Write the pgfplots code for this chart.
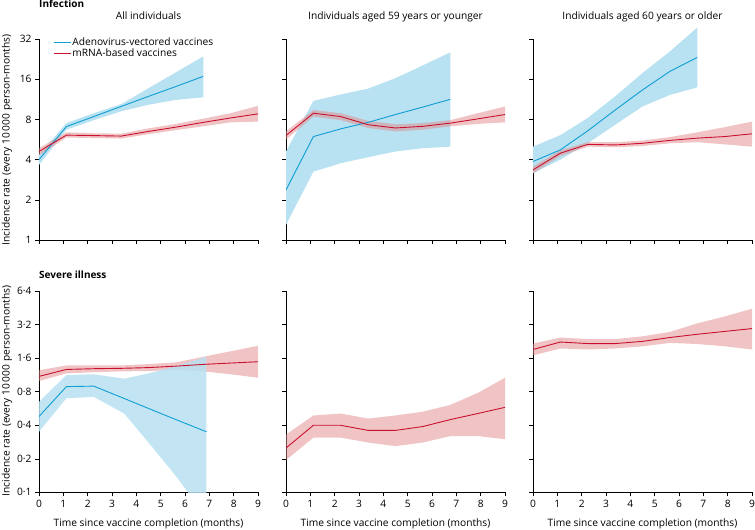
\documentclass[border=0pt]{standalone}
\usepackage{fontspec}
\setmainfont{Open Sans}
\usepackage{pgfplots}
\pgfplotsset{compat=1.18}
\definecolor{adeno}{RGB}{15,158,212}
\definecolor{adenofill}{RGB}{184,225,241}
\definecolor{mrna}{RGB}{200,16,46}
\definecolor{mrnafill}{RGB}{226,138,138}
\pgfplotsset{
 every axis/.append style={scale only axis, width=219pt, height=201pt, xmin=0, xmax=9,
   axis x line*=bottom, axis y line*=left,
   tick align=outside, major tick length=4pt,
   xtick={0,1,2,3,4,5,6,7,8,9},
   tick style={black, line width=0.6pt}, axis line style={black, line width=0.7pt},
   ticklabel style={font=\fontsize{10.2}{12}\selectfont}},
}
\tikzset{
 rkbandA/.style={draw=none, fill=adenofill},
 rkbandM/.style={draw=none, fill=mrnafill, fill opacity=0.5},
 rklineA/.style={adeno, line width=0.9pt},
 rklineM/.style={mrna, line width=0.9pt},
}
\begin{document}
\begin{tikzpicture}
\path[use as bounding box] (0pt,0pt) rectangle (755pt,530pt);
\def\tfont{\fontsize{10.2}{12}\selectfont}
% ---------- Infection, all individuals
\begin{semilogyaxis}[log basis y=2, anchor=south west, at={(39pt,290pt)},
  ymin=1, ymax=32, ytick={1,2,4,8,16,32}, yticklabels={1,2,4,8,16,32}, xticklabels={},
  legend style={draw=none, fill=none, at={(0.065,1.01)}, anchor=north west,
    font=\tfont, row sep=-0.5pt, inner sep=0pt, nodes={inner xsep=1pt, inner ysep=1pt}},
  legend image code/.code={\draw[#1] (0pt,0pt) -- (17pt,0pt);},
  legend cell align=left]
\addplot[rkbandA, forget plot] coordinates {(0,4.34) (1.125,7.5) (2.25,8.9) (3.375,10.4) (4.5,13.7) (5.625,18.0) (6.75,23.7)
  (6.75,11.7) (5.625,11.2) (4.5,10.3) (3.375,9.2) (2.25,7.9) (1.125,6.7) (0,3.65)};
\addplot[rkbandM, forget plot] coordinates {(0,4.87) (1.125,6.4) (2.25,6.3) (3.375,6.25) (4.5,6.85) (5.625,7.4) (6.75,8.1) (7.875,8.9) (9,10.1)
  (9,7.7) (7.875,7.6) (6.75,7.1) (5.625,6.65) (4.5,6.2) (3.375,5.75) (2.25,5.8) (1.125,5.85) (0,4.3)};
\addplot[rklineA, no marks] coordinates {(0,4.0) (1.125,7.07) (2.25,8.4) (3.375,10.0) (4.5,11.9) (5.625,14.1) (6.75,16.8)};
\addlegendentry{Adenovirus-vectored vaccines}
\addplot[rklineM, no marks] coordinates {(0,4.6) (1.125,6.1) (2.25,6.05) (3.375,6.0) (4.5,6.5) (5.625,7.0) (6.75,7.6) (7.875,8.2) (9,8.8)};
\addlegendentry{mRNA-based vaccines}
\end{semilogyaxis}
% ---------- Infection, 59 or younger
\begin{semilogyaxis}[log basis y=2, anchor=south west, at={(286pt,290pt)},
  ymin=1, ymax=32, ytick={1,2,4,8,16,32}, yticklabels={}, xticklabels={}]
\addplot[rkbandA] coordinates {(0,4.6) (1.125,11.0) (2.25,12.3) (3.375,13.6) (4.5,16.3) (5.625,20.3) (6.75,25.4)
  (6.75,5.0) (5.625,4.87) (4.5,4.6) (3.375,4.17) (2.25,3.76) (1.125,3.25) (0,1.3)};
\addplot[rkbandM] coordinates {(0,6.5) (1.125,9.4) (2.25,8.9) (3.375,7.8) (4.5,7.35) (5.625,7.5) (6.75,7.9) (7.875,8.9) (9,10.0)
  (9,7.6) (7.875,7.4) (6.75,7.1) (5.625,6.7) (4.5,6.5) (3.375,6.9) (2.25,7.9) (1.125,8.4) (0,5.65)};
\addplot[rklineA, no marks] coordinates {(0,2.37) (1.125,5.95) (2.25,6.8) (3.375,7.6) (4.5,8.7) (5.625,9.9) (6.75,11.3)};
\addplot[rklineM, no marks] coordinates {(0,6.06) (1.125,8.9) (2.25,8.4) (3.375,7.3) (4.5,6.9) (5.625,7.1) (6.75,7.5) (7.875,8.07) (9,8.7)};
\end{semilogyaxis}
% ---------- Infection, 60 or older
\begin{semilogyaxis}[log basis y=2, anchor=south west, at={(533pt,290pt)}, clip=false,
  ymin=1, ymax=32, ytick={1,2,4,8,16,32}, yticklabels={}, xticklabels={}]
\addplot[rkbandA] coordinates {(0,5.0) (1.125,6.1) (2.25,8.2) (3.375,11.9) (4.5,17.8) (5.625,25.8) (6.75,39)
  (6.75,13.9) (5.625,12.2) (4.5,10.0) (3.375,7.3) (2.25,5.3) (1.125,4.0) (0,3.16)};
\addplot[rkbandM] coordinates {(0,3.55) (1.125,4.7) (2.25,5.4) (3.375,5.4) (4.5,5.55) (5.625,5.9) (6.75,6.4) (7.875,7.0) (9,7.7)
  (9,5.0) (7.875,5.2) (6.75,5.4) (5.625,5.3) (4.5,5.05) (3.375,4.95) (2.25,5.0) (1.125,4.25) (0,3.15)};
\addplot[rklineA, no marks] coordinates {(0,3.87) (1.125,4.73) (2.25,6.57) (3.375,9.4) (4.5,13.3) (5.625,18.3) (6.75,23.3)};
\addplot[rklineM, no marks] coordinates {(0,3.35) (1.125,4.47) (2.25,5.2) (3.375,5.15) (4.5,5.3) (5.625,5.57) (6.75,5.79) (7.875,5.95) (9,6.24)};
\end{semilogyaxis}
% ---------- Severe illness, all individuals
\begin{semilogyaxis}[log basis y=2, anchor=south west, at={(39pt,37.7pt)},
  ymin=0.1, ymax=6.4, ytick={0.1,0.2,0.4,0.8,1.6,3.2,6.4},
  yticklabels={0·1,0·2,0·4,0·8,1·6,3·2,6·4}, xticklabels={0,1,2,3,4,5,6,7,8,9}]
\addplot[rkbandM] coordinates {(0,1.25) (1.125,1.38) (2.25,1.38) (3.375,1.38) (4.5,1.42) (5.625,1.47) (6.75,1.65) (7.875,1.85) (9,2.07)
  (9,1.07) (7.875,1.15) (6.75,1.22) (5.625,1.26) (4.5,1.23) (3.375,1.22) (2.25,1.2) (1.125,1.17) (0,1.0)};
\addplot[rkbandA, fill opacity=0.85] coordinates {(0,0.65) (1.125,1.13) (2.25,1.15) (3.5,1.05) (4.5,1.17) (5.625,1.36) (6.88,1.65)
  (6.88,0.06) (5.625,0.14) (4.5,0.28) (3.5,0.51) (2.25,0.72) (1.125,0.70) (0,0.35)};
\addplot[rklineA, no marks] coordinates {(0,0.48) (1.125,0.89) (2.25,0.90) (3.375,0.715) (4.5,0.567) (5.625,0.45) (6.88,0.35)};
\addplot[rklineM, no marks] coordinates {(0,1.1) (1.125,1.27) (2.25,1.29) (3.375,1.30) (4.5,1.32) (5.625,1.36) (6.75,1.41) (7.875,1.45) (9,1.49)};
\end{semilogyaxis}
% ---------- Severe illness, 59 or younger
\begin{semilogyaxis}[log basis y=2, anchor=south west, at={(286pt,37.7pt)},
  ymin=0.1, ymax=6.4, ytick={0.1,0.2,0.4,0.8,1.6,3.2,6.4},
  yticklabels={}, xticklabels={0,1,2,3,4,5,6,7,8,9}]
\addplot[rkbandM] coordinates {(0,0.33) (1.125,0.49) (2.25,0.51) (3.375,0.46) (4.5,0.49) (5.625,0.53) (6.75,0.61) (7.875,0.78) (9,1.07)
  (9,0.30) (7.875,0.32) (6.75,0.32) (5.625,0.28) (4.5,0.26) (3.375,0.28) (2.25,0.31) (1.125,0.31) (0,0.195)};
\addplot[rklineM, no marks] coordinates {(0,0.25) (1.125,0.40) (2.25,0.40) (3.375,0.36) (4.5,0.36) (5.625,0.39) (6.75,0.45) (7.875,0.51) (9,0.58)};
\end{semilogyaxis}
% ---------- Severe illness, 60 or older
\begin{semilogyaxis}[log basis y=2, anchor=south west, at={(533pt,37.7pt)},
  ymin=0.1, ymax=6.4, ytick={0.1,0.2,0.4,0.8,1.6,3.2,6.4},
  yticklabels={}, xticklabels={0,1,2,3,4,5,6,7,8,9}]
\addplot[rkbandM] coordinates {(0,2.17) (1.125,2.46) (2.25,2.38) (3.375,2.38) (4.5,2.52) (5.625,2.76) (6.75,3.3) (7.875,3.8) (9,4.46)
  (9,1.92) (7.875,2.05) (6.75,2.15) (5.625,2.2) (4.5,2.05) (3.375,1.96) (2.25,1.92) (1.125,1.96) (0,1.70)};
\addplot[rklineM, no marks] coordinates {(0,1.92) (1.125,2.24) (2.25,2.17) (3.375,2.17) (4.5,2.27) (5.625,2.46) (6.75,2.63) (7.875,2.79) (9,2.96)};
\end{semilogyaxis}
% ---------- texts
\node[anchor=base west, inner xsep=0pt, font=\bfseries\fontsize{10}{12}\selectfont] at (39pt,522pt) {Infection};
\node[anchor=base west, inner xsep=0pt, font=\bfseries\fontsize{10}{12}\selectfont] at (39pt,251pt) {Severe illness};
\node[anchor=base, font=\tfont] at (148.5pt,510pt) {All individuals};
\node[anchor=base, font=\tfont] at (395.5pt,510pt) {Individuals aged 59 years or younger};
\node[anchor=base, font=\tfont] at (642.5pt,510pt) {Individuals aged 60 years or older};
\node[rotate=90, font=\tfont] at (7pt,390pt) {Incidence rate (every 10\,000 person-months)};
\node[rotate=90, font=\tfont] at (7pt,139pt) {Incidence rate (every 10\,000 person-months)};
\node[anchor=base, font=\tfont] at (148.5pt,3.5pt) {Time since vaccine completion (months)};
\node[anchor=base, font=\tfont] at (395.5pt,3.5pt) {Time since vaccine completion (months)};
\node[anchor=base, font=\tfont] at (642.5pt,3.5pt) {Time since vaccine completion (months)};
\end{tikzpicture}
\end{document}
